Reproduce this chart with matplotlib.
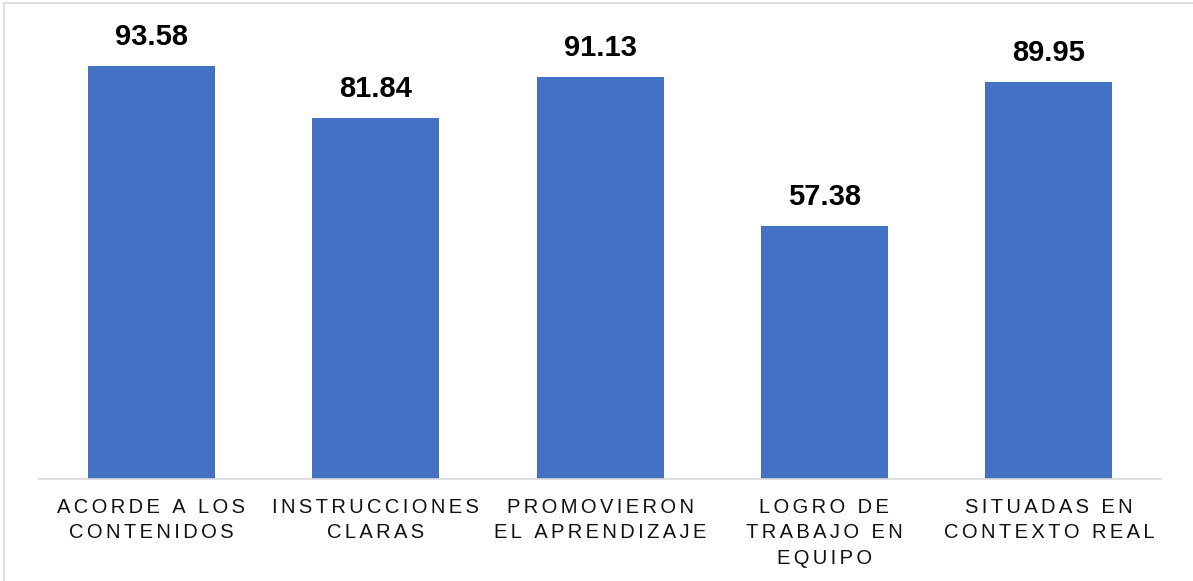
import matplotlib
matplotlib.use("Agg")
import matplotlib.pyplot as plt
from matplotlib.lines import Line2D

categories = [
    "ACORDE A LOS\nCONTENIDOS",
    "INSTRUCCIONES\nCLARAS",
    "PROMOVIERON\nEL APRENDIZAJE",
    "LOGRO DE\nTRABAJO EN\nEQUIPO",
    "SITUADAS EN\nCONTEXTO REAL",
]
values = [93.58, 81.84, 91.13, 57.38, 89.95]


def spaced(text):
    # wide letter spacing like the original, with six-per-em spaces
    return "\n".join("\u2006".join(line) for line in text.split("\n"))


plt.rcParams["font.family"] = ["Liberation Sans", "DejaVu Sans"]

fig = plt.figure(figsize=(11.93, 5.81), dpi=100)
ax = fig.add_axes([0.0327, 0.1756, 0.9405, 0.759])

x = list(range(len(values)))
bars = ax.bar(x, values, width=0.566, color="#4472C4", zorder=2)

for xi, v in zip(x, values):
    ax.annotate(f"{v:.2f}", (xi, v), xytext=(0, 11), textcoords="offset points",
                ha="center", va="bottom", fontsize=21, fontweight="bold",
                color="black", annotation_clip=False)

ax.set_xlim(-0.5, len(values) - 0.5)
ax.set_ylim(0, 100)
ax.set_xticks(x)
ax.set_xticklabels([spaced(c) for c in categories], fontsize=14.5,
                   linespacing=1.43, color="#111111")
ax.tick_params(axis="x", length=0, pad=13.5)
ax.set_yticks([])
for s in ["top", "right", "left"]:
    ax.spines[s].set_visible(False)
ax.spines["bottom"].set_color("#D9D9D9")
ax.spines["bottom"].set_linewidth(1.2)

# light frame of the chart area (only top and left visible)
fig.add_artist(Line2D([4 / 1193, 1], [1 - 3 / 581, 1 - 3 / 581],
                      transform=fig.transFigure, color="#D9D9D9", lw=1.2))
fig.add_artist(Line2D([4 / 1193, 4 / 1193], [0, 1 - 3 / 581],
                      transform=fig.transFigure, color="#D9D9D9", lw=1.2))

fig.savefig("out.png", dpi=100)
